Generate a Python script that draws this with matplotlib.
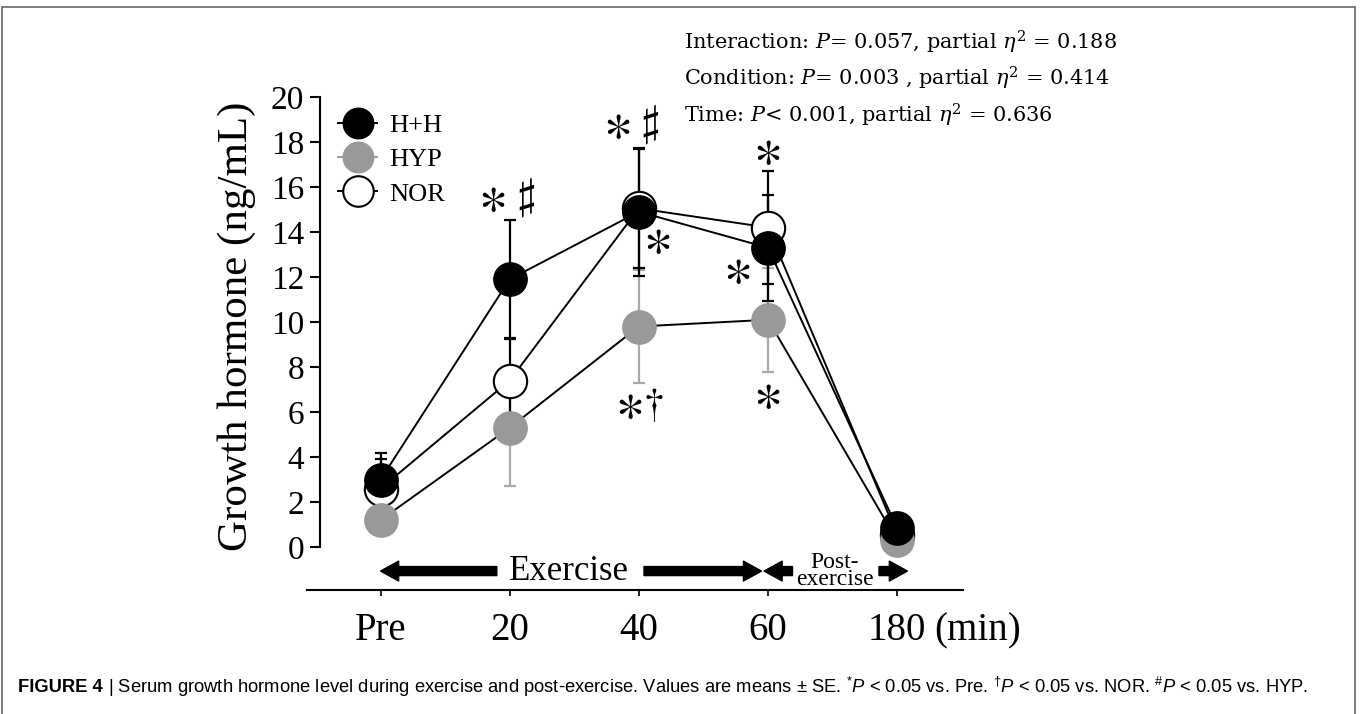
import numpy as np
import matplotlib.pyplot as plt
from matplotlib.lines import Line2D
from matplotlib.patches import Rectangle

# values (ng/mL), means and SE
times = ['Pre', '20', '40', '60', '180']
hh = [3.0, 11.9, 14.9, 13.3, 0.85]
hh_se = [1.2, 2.65, 2.85, 2.35, 0.3]
hyp = [1.2, 5.3, 9.8, 10.1, 0.3]
hyp_se = [0.5, 2.6, 2.5, 2.3, 0.2]
nor = [2.6, 7.4, 15.05, 14.2, 0.55]
nor_se = [1.3, 1.9, 2.65, 2.5, 0.3]

stats_lines = [r'Interaction: $P$= 0.057, partial $\eta^2$ = 0.188',
               r'Condition: $P$= 0.003 , partial $\eta^2$ = 0.414',
               r'Time: $P$< 0.001, partial $\eta^2$ = 0.636']

plt.rcParams['font.family'] = ['Liberation Serif', 'DejaVu Serif']
plt.rcParams['mathtext.fontset'] = 'custom'
plt.rcParams['mathtext.rm'] = 'Liberation Sans'
plt.rcParams['mathtext.it'] = 'Liberation Sans:italic'

x = np.arange(len(times))
grey = '#999999'

fig = plt.figure(figsize=(13.62, 7.14), dpi=100)
ax = fig.add_axes([0.2254, 0.1737, 0.4816, 0.7062])

eb = dict(fmt='none', elinewidth=1.6, capsize=4, capthick=1.6, zorder=1)
ax.errorbar(x, hyp, yerr=hyp_se, ecolor='#aaaaaa', **eb)
ax.errorbar(x, nor, yerr=nor_se, ecolor='black', **eb)
ax.errorbar(x, hh, yerr=hh_se, ecolor='black', **eb)

for vals in (hyp, nor, hh):
    ax.plot(x, vals, '-', color='black', lw=1.4, zorder=2)

ms = 24
ax.plot(x, nor, 'o', ms=ms, mfc='white', mec='black', mew=1.5, zorder=3)
ax.plot(x, hyp, 'o', ms=ms, mfc=grey, mec=grey, zorder=4)
ax.plot(x, hh, 'o', ms=ms, mfc='black', mec='black', zorder=5)

handles = [Line2D([], [], color='black', lw=1.4, marker='o', ms=22, mfc='black', mec='black'),
           Line2D([], [], color=grey, lw=1.4, marker='o', ms=22, mfc=grey, mec=grey),
           Line2D([], [], color='black', lw=1.4, marker='o', ms=22, mfc='white', mec='black', mew=1.5)]
ax.legend(handles, ['H+H', 'HYP', 'NOR'], loc='upper left', bbox_to_anchor=(0.047, 0.944),
          frameon=False, fontsize=19, borderpad=0, borderaxespad=0,
          handlelength=1.5, handletextpad=0.45, labelspacing=0.4)

ax.set_xlim(-0.57, 4.51)
ax.set_ylim(-1.91, 20.5)
ax.spines['top'].set_visible(False)
ax.spines['right'].set_visible(False)
ax.spines['left'].set_position(('data', -0.473))
ax.spines['left'].set_bounds(0, 20)
ax.spines['left'].set_linewidth(1.5)
ax.spines['bottom'].set_linewidth(1.5)
ax.set_yticks(np.arange(0, 21, 2))
ax.set_xticks(x, times)
ax.tick_params(axis='y', direction='out', length=7, width=1.5, labelsize=24, pad=4)
ax.tick_params(axis='x', direction='out', length=4, width=1.2, labelsize=28, pad=12)
ax.set_ylabel('Growth hormone (ng/mL)', fontsize=31, va='center')
ax.yaxis.set_label_coords(-0.107, 0.522)
ax.annotate('(min)', xy=(4.29, 0), xycoords=('data', 'axes fraction'),
            xytext=(0, -16), textcoords='offset points', va='top', fontsize=28)

# exercise / post-exercise arrows
arrow_y = -1.07
akw = dict(arrowstyle='simple,head_length=1.0,head_width=1.1,tail_width=0.5',
           mutation_scale=13, color='black', shrinkA=0, shrinkB=0)
ax.annotate('', xy=(0.0, arrow_y), xytext=(0.9, arrow_y), arrowprops=akw)
ax.annotate('', xy=(2.95, arrow_y), xytext=(2.04, arrow_y), arrowprops=akw)
ax.annotate('', xy=(2.97, arrow_y), xytext=(3.19, arrow_y), arrowprops=akw)
ax.annotate('', xy=(4.08, arrow_y), xytext=(3.86, arrow_y), arrowprops=akw)
ax.text(1.46, arrow_y, 'Exercise', fontsize=25, ha='center', va='center')
ax.text(3.52, arrow_y, 'Post-\nexercise', fontsize=17, ha='center', va='center', linespacing=0.8)

# significance marks: asterisk = vs. Pre, sharp = vs. HYP, dagger = vs. NOR
stars = [(0.86, 15.5), (1.83, 18.74), (2.14, 13.66), (1.92, 6.3),
         (2.99, 17.6), (2.76, 12.3), (2.99, 6.74)]
others = [(1.13, 15.5, r'$\sharp$'), (2.09, 18.74, r'$\sharp$'), (2.11, 6.3, r'$\dagger$')]
for sx, sy in stars:
    ax.text(sx, sy, r'$\ast$', fontsize=40, ha='center', va='center',
            math_fontfamily='stix', clip_on=False)
for sx, sy, s in others:
    ax.text(sx, sy, s, fontsize=30, ha='center', va='center',
            math_fontfamily='stix', clip_on=False)

for i, line in enumerate(stats_lines):
    fig.text(0.502, 0.941 - i * 0.0515, line, fontsize=15, va='center',
             family=['DejaVu Serif'], math_fontfamily='dejavuserif')

# caption and frame
head = fig.text(0.013, 1 - 687 / 714, 'FIGURE 4', family=['Liberation Sans'],
                weight='bold', fontsize=13.2, va='center')
ax.annotate(r'| Serum growth hormone level during exercise and post-exercise. Values are means ± SE. '
            r'$^{*}P$ < 0.05 vs. Pre. $^{\dagger}P$ < 0.05 vs. NOR. $^{\#}P$ < 0.05 vs. HYP.',
            xy=(1, 0.5), xycoords=head, xytext=(4, 0), textcoords='offset points',
            va='center', fontsize=13.2, family=['Liberation Sans'], math_fontfamily='custom')
fig.add_artist(Rectangle((0.0015, -0.01), 0.9934, 1.0, transform=fig.transFigure,
                         fill=False, edgecolor='#666666', lw=1.2))

plt.savefig('out.png', dpi=100)
